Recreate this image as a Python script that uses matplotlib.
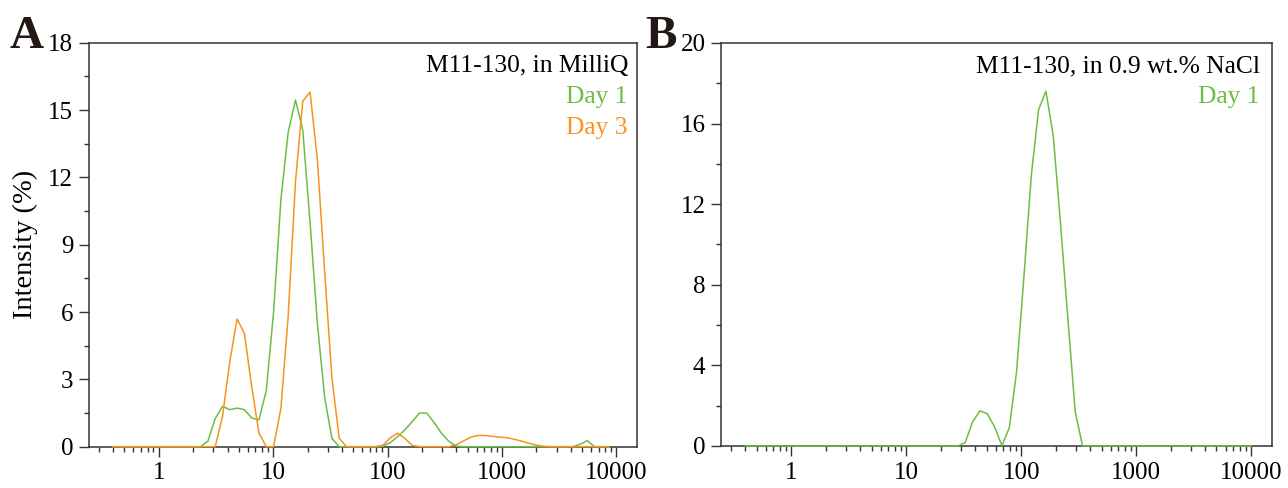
import numpy as np
import matplotlib as mpl
mpl.use("Agg")
import matplotlib.pyplot as plt
from matplotlib.ticker import MultipleLocator, LogLocator, NullFormatter

mpl.rcParams.update({
    "font.family": "serif",
    "font.serif": ["Liberation Serif", "DejaVu Serif"],
    "font.size": 18,
    "axes.linewidth": 1.1,
    "axes.edgecolor": "#333333",
})

# ----------------------------------------------------------------------
# Data: size bins (nm) and intensity distributions (%)
# ----------------------------------------------------------------------
sizes = [0.4, 0.4632, 0.5365, 0.6213, 0.7195, 0.8332, 0.9649, 1.117, 1.294,
         1.499, 1.736, 2.01, 2.328, 2.696, 3.122, 3.615, 4.187, 4.849, 5.615,
         6.503, 7.531, 8.721, 10.1, 11.7, 13.54, 15.69, 18.17, 21.04, 24.36,
         28.21, 32.67, 37.84, 43.82, 50.75, 58.77, 68.06, 78.82, 91.28, 105.7,
         122.4, 141.8, 164.2, 190.1, 220.2, 255.0, 295.3, 342.0, 396.1, 458.7,
         531.2, 615.1, 712.4, 825.0, 955.4, 1106, 1281, 1484, 1718, 1990, 2305,
         2669, 3091, 3580, 4145, 4801, 5560, 6439, 7456, 8635, 10000]

milliq_day1 = [0, 0, 0, 0, 0, 0, 0, 0, 0, 0, 0, 0, 0, 0.25, 1.25, 1.8, 1.65,
               1.72, 1.65, 1.28, 1.2, 2.5, 6.0, 11.0, 14.0, 15.45, 14.1, 10.0,
               5.5, 2.2, 0.37, 0, 0, 0, 0, 0, 0, 0.02, 0.18, 0.45, 0.75, 1.12,
               1.5, 1.5, 1.08, 0.6, 0.25, 0.03, 0, 0, 0, 0, 0, 0, 0, 0, 0, 0,
               0, 0, 0, 0, 0, 0, 0.1, 0.27, 0, 0, 0, 0]

milliq_day3 = [0, 0, 0, 0, 0, 0, 0, 0, 0, 0, 0, 0, 0, 0, 0, 1.35, 3.8, 5.69,
               5.05, 2.67, 0.6, 0, 0, 1.7, 5.8, 11.8, 15.4, 15.8, 12.8, 7.8,
               3.05, 0.37, 0, 0, 0, 0, 0, 0.07, 0.4, 0.6, 0.37, 0.06, 0, 0,
               0, 0, 0, 0.08, 0.25, 0.42, 0.5, 0.5, 0.46, 0.43, 0.4, 0.33,
               0.25, 0.15, 0.07, 0.02, 0, 0, 0, 0, 0, 0, 0, 0, 0, 0]

nacl_day1 = [0, 0, 0, 0, 0, 0, 0, 0, 0, 0, 0, 0, 0, 0, 0, 0, 0, 0, 0, 0, 0,
             0, 0, 0, 0, 0, 0, 0, 0, 0, 0.18, 1.2, 1.75, 1.6, 0.95, 0.02, 0.9,
             3.7, 8.4, 13.4, 16.7, 17.6, 15.4, 11.0, 6.3, 1.7, 0, 0, 0, 0, 0,
             0, 0, 0, 0, 0, 0, 0, 0, 0, 0, 0, 0, 0, 0, 0, 0, 0, 0, 0]

xticks = [1, 10, 100, 1000, 10000]
xticklabels = ["1", "10", "100", "1000", "10000"]

green = "#6cbd45"
orange = "#f7931e"
dark = "#333333"

# ----------------------------------------------------------------------
# Figure
# ----------------------------------------------------------------------
fig = plt.figure(figsize=(12.88, 4.88), dpi=100)
axA = fig.add_axes([88.7 / 1288, 41.3 / 488, 548.6 / 1288, 404 / 488])
axB = fig.add_axes([721 / 1288, 42 / 488, 551 / 1288, 403 / 488])


def style(ax, ymax, ystep):
    ax.set_xscale("log")
    ax.set_xlim(0.245, 15200)
    ax.set_ylim(0, ymax)
    ax.set_xticks(xticks)
    ax.set_xticklabels(xticklabels)
    ax.xaxis.set_minor_locator(LogLocator(base=10, subs=np.arange(2, 10)))
    ax.xaxis.set_minor_formatter(NullFormatter())
    ax.yaxis.set_major_locator(MultipleLocator(ystep))
    ax.yaxis.set_minor_locator(MultipleLocator(ystep / 2))
    ax.tick_params(which="major", direction="out", length=7.2, width=1.0,
                   color=dark, pad=4, labelsize=18)
    ax.tick_params(which="minor", direction="out", length=3.6, width=1.0,
                   color=dark)
    ax.tick_params(top=False, right=False, which="both")


style(axA, 18, 3)
style(axB, 20, 4)

axA.plot(sizes[:-1], milliq_day1[:-1], color=green, lw=1.1, clip_on=False,
         zorder=3)
axA.plot(sizes[:-1], milliq_day3[:-1], color=orange, lw=1.1, clip_on=False,
         zorder=3)
axB.plot(sizes, nacl_day1, color=green, lw=1.1, clip_on=False, zorder=3)

axA.set_ylabel("Intensity (%)", fontsize=20.5)
axA.yaxis.set_label_coords(-0.0924, 0.5)

# in-panel annotations
fs_note = 18.4
axA.text(0.983, 0.9275, "M11-130, in MilliQ", transform=axA.transAxes,
         ha="right", va="baseline", color="black", fontsize=fs_note)
axA.text(0.983, 0.8507, "Day 1", transform=axA.transAxes,
         ha="right", va="baseline", color=green, fontsize=fs_note)
axA.text(0.983, 0.775, "Day 3", transform=axA.transAxes,
         ha="right", va="baseline", color=orange, fontsize=fs_note)

axB.text(0.978, 0.9275, "M11-130, in 0.9 wt.% NaCl", transform=axB.transAxes,
         ha="right", va="baseline", color="black", fontsize=fs_note)
axB.text(0.978, 0.8507, "Day 1", transform=axB.transAxes,
         ha="right", va="baseline", color=green, fontsize=fs_note)

# panel letters
fig.text(9 / 1288, 1 - 48 / 488, "A", fontsize=34, fontweight="bold",
         ha="left", va="baseline", color="#231815")
fig.text(645 / 1288, 1 - 48 / 488, "B", fontsize=34, fontweight="bold",
         ha="left", va="baseline", color="#231815")

fig.savefig("out.png", dpi=100)
